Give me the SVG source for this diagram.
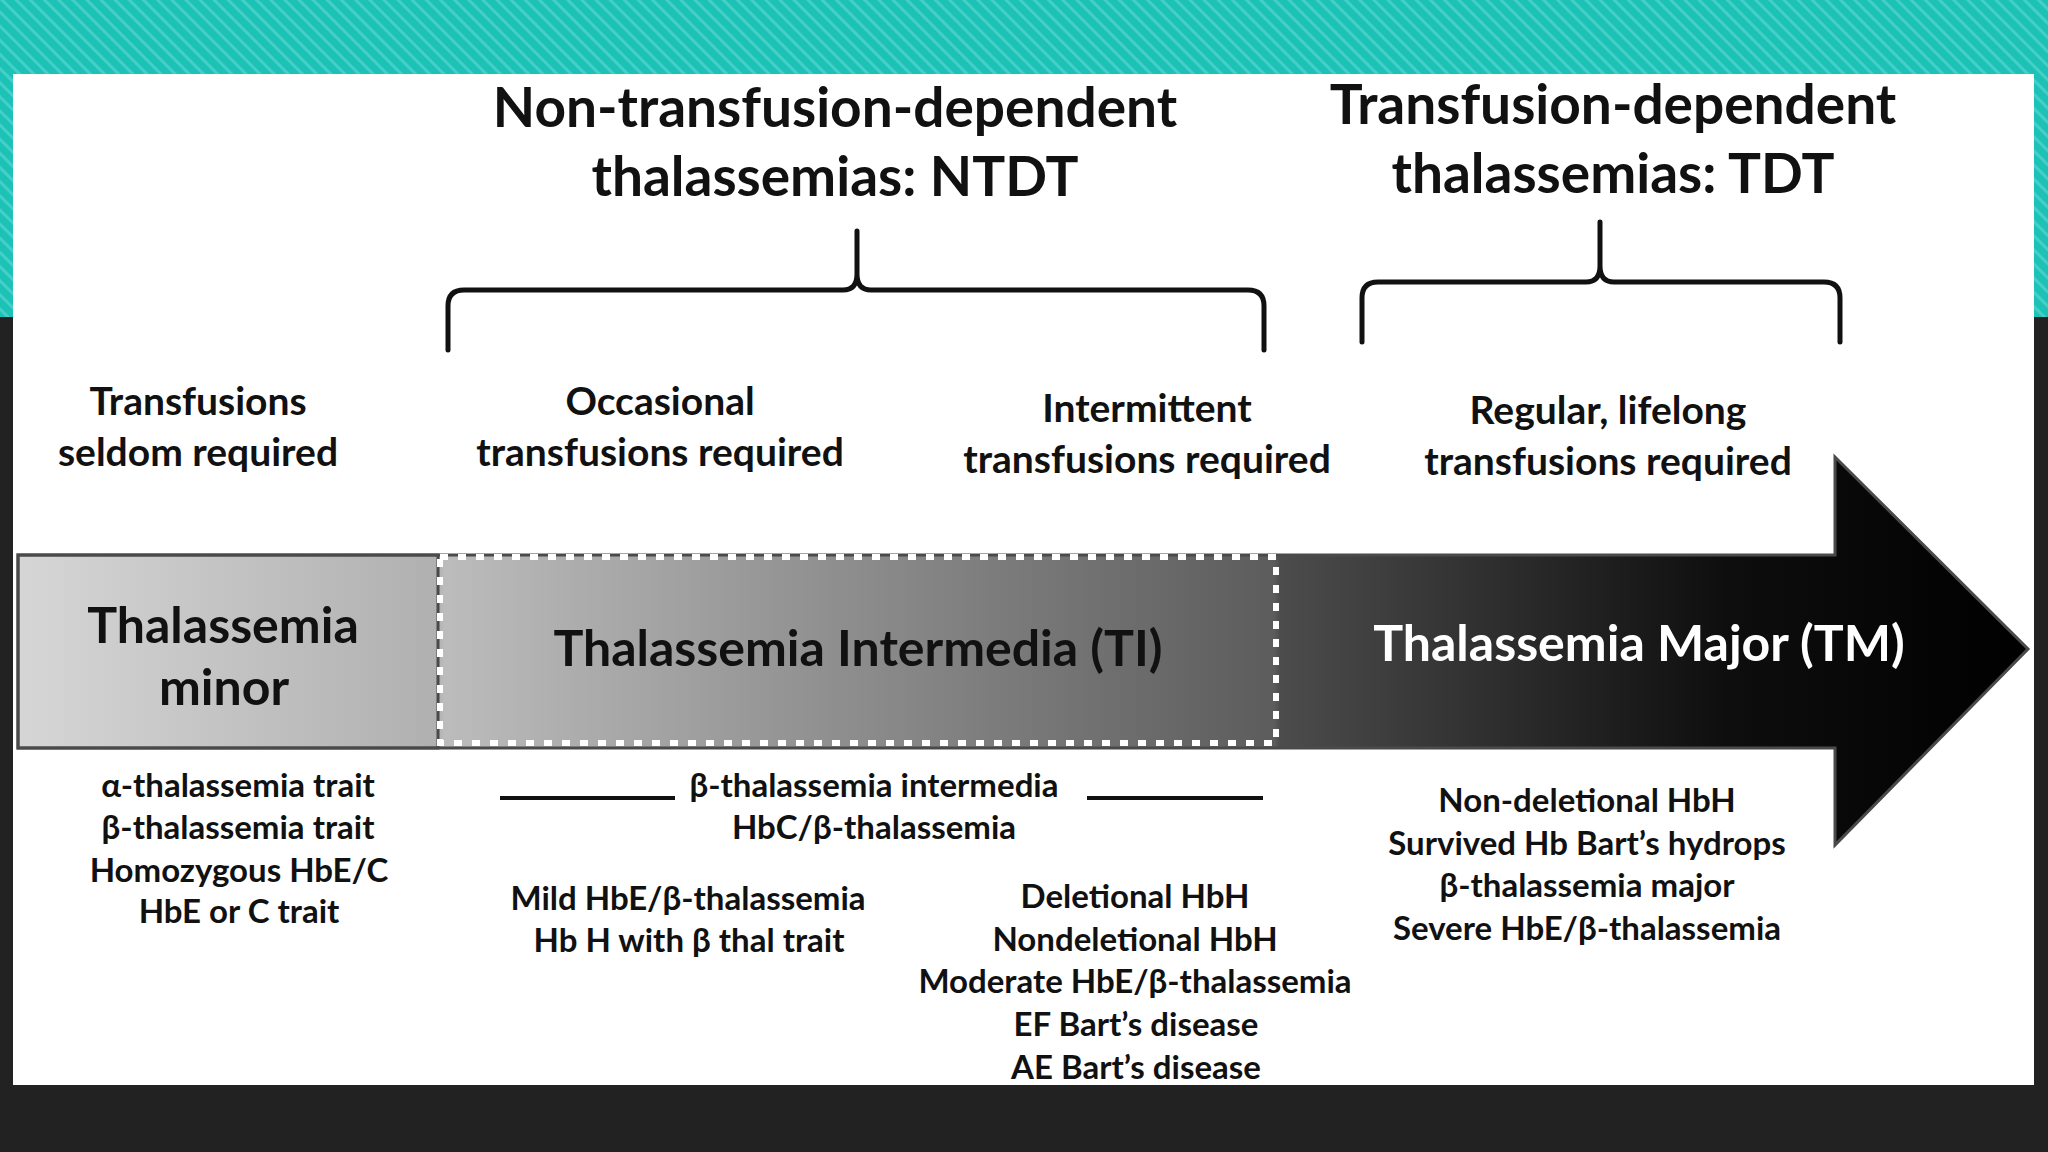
<svg xmlns="http://www.w3.org/2000/svg" width="2048" height="1152" viewBox="0 0 2048 1152">
  <defs>
    <pattern id="stripes" width="10" height="10" patternUnits="userSpaceOnUse" patternTransform="rotate(-45)">
      <rect width="10" height="10" fill="#1cc2b6"/>
      <rect width="3" height="10" fill="#45cfc6"/>
    </pattern>
    <linearGradient id="arrowGrad" gradientUnits="userSpaceOnUse" x1="18" y1="0" x2="2028" y2="0">
      <stop offset="0" stop-color="#d6d6d6"/>
      <stop offset="0.209" stop-color="#b0b0b0"/>
      <stop offset="0.212" stop-color="#bcbcbc"/>
      <stop offset="0.625" stop-color="#5c5c5c"/>
      <stop offset="0.628" stop-color="#4c4c4c"/>
      <stop offset="0.85" stop-color="#0e0e0e"/>
      <stop offset="1" stop-color="#000000"/>
    </linearGradient>
    <style>
      text { font-family: Lato, "Open Sans", "Liberation Sans", sans-serif; font-weight: bold; fill: #111111; text-anchor: middle; }
      .head { font-size: 55px; }
      .lab { font-size: 39px; }
      .big { font-size: 50px; }
      .small { font-size: 33px; }
      .white { fill: #ffffff; }
      .brace { fill: none; stroke: #111111; stroke-width: 5; stroke-linecap: round; stroke-linejoin: round; }
      .rule { stroke: #111111; stroke-width: 4; }
    </style>
  </defs>

  <!-- slide background -->
  <rect x="0" y="0" width="2048" height="1152" fill="#222222"/>
  <rect x="0" y="0" width="2048" height="317" fill="url(#stripes)"/>
  <rect x="13" y="74" width="2021" height="1011" fill="#ffffff"/>

  <!-- headers -->
  <g id="ntdt-header">
    <text class="head" x="835" y="127">Non-transfusion-dependent</text>
    <text class="head" x="835" y="196">thalassemias: NTDT</text>
  </g>
  <g id="tdt-header">
    <text class="head" x="1613" y="124">Transfusion-dependent</text>
    <text class="head" x="1613" y="193">thalassemias: TDT</text>
  </g>

  <!-- connectors (braces and rules) -->
  <g id="connectors">
    <path class="brace" d="M448,350 L448,306 Q448,290 464,290 L843,290 Q857,290 857,274 L857,231 M857,274 Q857,290 871,290 L1248,290 Q1264,290 1264,306 L1264,350"/>
    <path class="brace" d="M1362,342 L1362,298 Q1362,282 1378,282 L1586,282 Q1600,282 1600,266 L1600,222 M1600,266 Q1600,282 1614,282 L1824,282 Q1840,282 1840,298 L1840,342"/>
    <line class="rule" x1="500" y1="798" x2="675" y2="798"/>
    <line class="rule" x1="1087" y1="798" x2="1263" y2="798"/>
  </g>

  <!-- transfusion labels -->
  <g id="label-seldom">
    <text class="lab" x="198" y="415">Transfusions</text>
    <text class="lab" x="198" y="466">seldom required</text>
  </g>
  <g id="label-occasional">
    <text class="lab" x="660" y="415">Occasional</text>
    <text class="lab" x="660" y="466">transfusions required</text>
  </g>
  <g id="label-intermittent">
    <text class="lab" x="1147" y="422">Intermittent</text>
    <text class="lab" x="1147" y="473">transfusions required</text>
  </g>
  <g id="label-regular">
    <text class="lab" x="1608" y="424">Regular, lifelong</text>
    <text class="lab" x="1608" y="475">transfusions required</text>
  </g>

  <!-- arrow -->
  <g id="arrow">
    <polygon points="18,555 1835,555 1835,457 2028,649 1835,845 1835,748 18,748" fill="url(#arrowGrad)" stroke="#4a4a4a" stroke-width="3" stroke-linejoin="miter"/>
  </g>
  <g id="thal-minor">
    <rect x="18" y="555" width="420" height="193" fill="none" stroke="#4a4a4a" stroke-width="3"/>
    <text class="big" x="223" y="643">Thalassemia</text>
    <text class="big" x="224" y="705">minor</text>
  </g>
  <g id="thal-intermedia">
    <rect x="440" y="557" width="836" height="186" fill="none" stroke="#ffffff" stroke-width="6" stroke-dasharray="8 10"/>
    <text class="big" x="858" y="666">Thalassemia Intermedia (TI)</text>
  </g>
  <g id="thal-major">
    <text class="big white" x="1639" y="661">Thalassemia Major (TM)</text>
  </g>

  <!-- lists -->
  <g id="list-minor">
    <text class="small" x="238" y="797">α-thalassemia trait</text>
    <text class="small" x="238" y="839">β-thalassemia trait</text>
    <text class="small" x="239" y="882">Homozygous HbE/C</text>
    <text class="small" x="239" y="923">HbE or C trait</text>
  </g>
  <g id="list-ti-shared">
    <text class="small" x="874" y="797">β-thalassemia intermedia</text>
    <text class="small" x="874" y="839">HbC/β-thalassemia</text>
  </g>
  <g id="list-ti-occasional">
    <text class="small" x="688" y="910">Mild HbE/β-thalassemia</text>
    <text class="small" x="689" y="952">Hb H with β thal trait</text>
  </g>
  <g id="list-ti-intermittent">
    <text class="small" x="1135" y="908">Deletional HbH</text>
    <text class="small" x="1135" y="951">Nondeletional HbH</text>
    <text class="small" x="1135" y="993">Moderate HbE/β-thalassemia</text>
    <text class="small" x="1136" y="1036">EF Bart’s disease</text>
    <text class="small" x="1136" y="1079">AE Bart’s disease</text>
  </g>
  <g id="list-major">
    <text class="small" x="1587" y="812">Non-deletional HbH</text>
    <text class="small" x="1587" y="855">Survived Hb Bart’s hydrops</text>
    <text class="small" x="1587" y="897">β-thalassemia major</text>
    <text class="small" x="1587" y="940">Severe HbE/β-thalassemia</text>
  </g>
</svg>
